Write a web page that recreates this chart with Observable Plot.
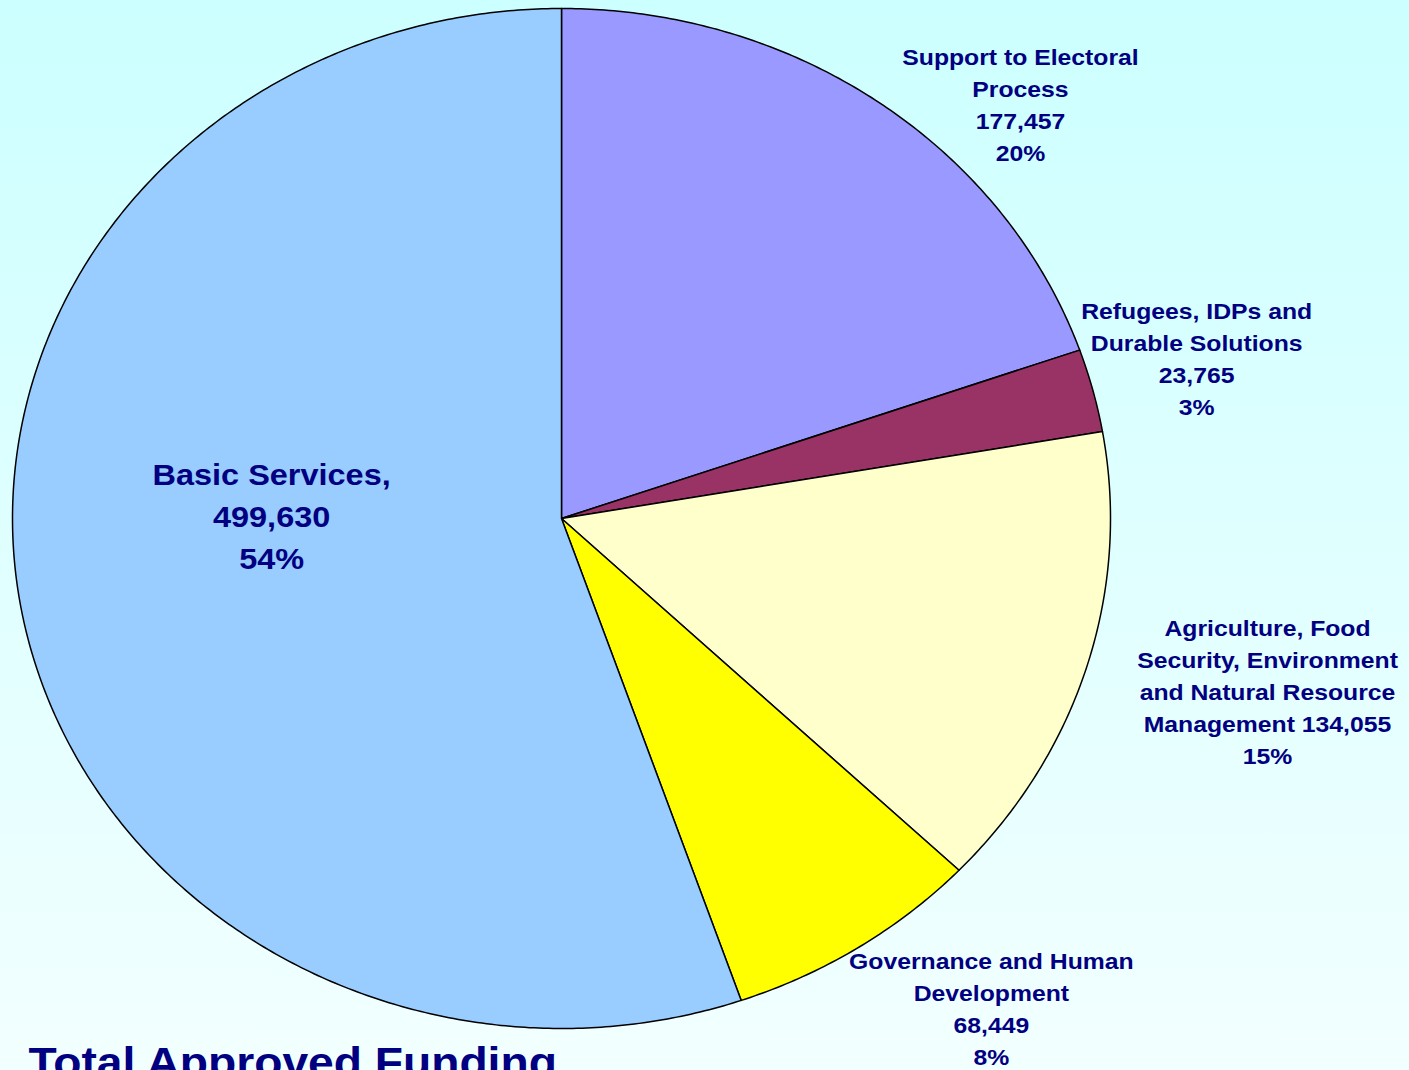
<!DOCTYPE html>
<html>
<head>
<meta charset="utf-8">
<script src="https://cdn.jsdelivr.net/npm/d3@7"></script>
<script src="https://cdn.jsdelivr.net/npm/@observablehq/plot@0.6"></script>
<style>
  html, body { margin: 0; padding: 0; }
  body { width: 1409px; height: 1070px; overflow: hidden;
         background: linear-gradient(to bottom, #CCFFFF 0%, #F2FFFF 100%); }
  #chart svg { display: block; background: transparent; }
</style>
</head>
<body>
<div id="chart"></div>
<script>
// ---- data ----
const categories = [
  "Support to Electoral Process",
  "Refugees, IDPs and Durable Solutions",
  "Agriculture, Food Security, Environment and Natural Resource Management",
  "Governance and Human Development",
  "Basic Services"
];
const values = [177457, 23765, 134055, 68449, 499630];
const percents = ["20%", "3%", "15%", "8%", "54%"];
const labelNames = [
  "Support to Electoral\nProcess",
  "Refugees, IDPs and\nDurable Solutions",
  "Agriculture, Food\nSecurity, Environment\nand Natural Resource\nManagement",
  "Governance and Human\nDevelopment",
  "Basic Services,"
];
const colors = ["#9999FF", "#993366", "#FFFFCC", "#FFFF00", "#99CCFF"];
const title = "Total Approved Funding";

// label anchor positions (unit pie coordinates), kept apart from the data
const labelX = [0.836, 1.157, 1.286, 0.783, -0.528];
const labelY = [0.810, 0.312, -0.341, -0.963, 0.004];

// ---- geometry ----
const fmt = d3.format(",");
const arcs = d3.pie().sort(null).value(d => d)(values);
const slices = arcs.map((a, i) => {
  const pts = [{x: 0, y: 0}];
  const n = Math.max(4, Math.ceil((a.endAngle - a.startAngle) / (Math.PI / 360)));
  for (let k = 0; k <= n; k++) {
    const t = a.startAngle + (a.endAngle - a.startAngle) * k / n;
    pts.push({x: Math.sin(t), y: Math.cos(t)});
  }
  pts.push({x: 0, y: 0});
  return {pts, color: colors[i]};
});

const labels = categories.map((c, i) => ({
  name: c,
  x: labelX[i],
  y: labelY[i],
  text: i === 2
    ? `${labelNames[i]} ${fmt(values[i])}\n${percents[i]}`
    : `${labelNames[i]}\n${fmt(values[i])}\n${percents[i]}`
}));
const smallLabels = labels.slice(0, 4);
const bigLabels = labels.slice(4);

const navy = "#000080";

const svg = Plot.plot({
  width: 1409,
  height: 1070,
  margin: 0,
  x: {domain: [-1, 1], range: [12, 1110], axis: null},
  y: {domain: [-1, 1], range: [1028, 8], axis: null},
  style: {fontFamily: "Arial, 'Liberation Sans', sans-serif", background: "transparent"},
  marks: [
    ...slices.map(s => Plot.line(s.pts, {
      x: "x", y: "y", fill: s.color, stroke: "#000", strokeWidth: 1.5, strokeLinejoin: "round"
    })),
    Plot.text(smallLabels, {
      x: "x", y: "y", text: "text", fill: navy, fontSize: 22.5, fontWeight: "bold",
      lineAnchor: "middle", lineHeight: 1.42, textAnchor: "middle", dy: -3
    }),
    Plot.text(bigLabels, {
      x: "x", y: "y", text: "text", fill: navy, fontSize: 29, fontWeight: "bold",
      lineAnchor: "middle", lineHeight: 1.45, textAnchor: "middle", dy: -3
    }),
    Plot.text([title], {
      frameAnchor: "bottom-left", text: d => d, fill: navy, fontSize: 42, fontWeight: "bold",
      textAnchor: "start", lineAnchor: "top", dx: 28, dy: -23
    })
  ]
});

// horizontal stretch of the text, as in the reference rendering
const stretch = [1.1, 1.12, 1.1];
d3.select(svg).selectAll('g[aria-label="text"]').each(function(_, gi) {
  const s = stretch[gi] ?? 1.1;
  d3.select(this).selectAll(":scope > text").each(function() {
    const el = this;
    let tr = el.getAttribute("transform");
    if (!tr) {
      const x = el.getAttribute("x") || 0, y = el.getAttribute("y") || 0;
      el.removeAttribute("x"); el.removeAttribute("y");
      tr = `translate(${x},${y})`;
    }
    el.setAttribute("transform", `${tr} scale(${s},1)`);
  });
});

document.getElementById("chart").appendChild(svg);
</script>
</body>
</html>
